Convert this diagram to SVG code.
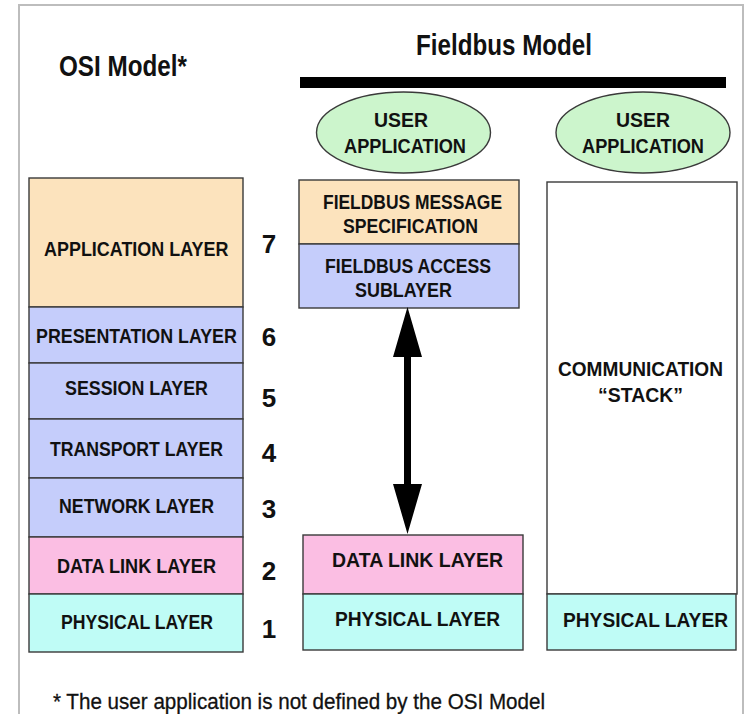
<svg xmlns="http://www.w3.org/2000/svg" width="748" height="714" viewBox="0 0 748 714">
  <style>
    .lbl { font-family: "Liberation Sans", Arial, sans-serif; font-weight: bold; font-size: 21px; fill: #111; }
    .num { font-family: "Liberation Sans", Arial, sans-serif; font-weight: bold; font-size: 26px; fill: #111; }
    .title { font-family: "Liberation Sans", Arial, sans-serif; font-weight: bold; font-size: 29px; fill: #111; }
    .note { font-family: "Liberation Sans", Arial, sans-serif; font-size: 22px; fill: #111; stroke: #111; stroke-width: 0.3; }
    .box { stroke: #3a3a3a; stroke-width: 1.4; }
    .app { fill: #fce3bd; }
    .upper { fill: #c5cdfb; }
    .dl { fill: #fbbee3; }
    .phy { fill: #bffcf6; }
    .blank { fill: #ffffff; }
    .user { fill: #ccf5cc; stroke: #3a3a3a; stroke-width: 1.4; }
  </style>

  <rect x="0" y="0" width="748" height="714" fill="#ffffff"/>
  <!-- outer frame -->
  <path d="M19,714 V5 H743 V714" fill="none" stroke="#bdbdbd" stroke-width="2"/>

  <!-- headings -->
  <text class="title" x="59" y="76" textLength="128" lengthAdjust="spacingAndGlyphs">OSI Model*</text>
  <text class="title" x="416" y="55" textLength="176" lengthAdjust="spacingAndGlyphs">Fieldbus Model</text>
  <rect x="300" y="77" width="426" height="11" fill="#000"/>

  <!-- OSI reference stack -->
  <g id="osi-application">
    <rect class="box app" x="29" y="178" width="214" height="129"/>
    <text class="lbl" transform="translate(44,256) scale(0.855,1)">APPLICATION LAYER</text>
    <text class="num" x="269" y="253" text-anchor="middle">7</text>
  </g>
  <g id="osi-presentation">
    <rect class="box upper" x="29" y="307" width="214" height="56"/>
    <text class="lbl" transform="translate(36,343) scale(0.85,1)">PRESENTATION LAYER</text>
    <text class="num" x="269" y="346" text-anchor="middle">6</text>
  </g>
  <g id="osi-session">
    <rect class="box upper" x="29" y="363" width="214" height="56"/>
    <text class="lbl" x="65" y="395" textLength="143" lengthAdjust="spacingAndGlyphs">SESSION LAYER</text>
    <text class="num" x="269" y="407" text-anchor="middle">5</text>
  </g>
  <g id="osi-transport">
    <rect class="box upper" x="29" y="419" width="214" height="59"/>
    <text class="lbl" x="50" y="456" textLength="173" lengthAdjust="spacingAndGlyphs">TRANSPORT LAYER</text>
    <text class="num" x="269" y="462" text-anchor="middle">4</text>
  </g>
  <g id="osi-network">
    <rect class="box upper" x="29" y="478" width="214" height="59"/>
    <text class="lbl" x="59" y="513" textLength="155" lengthAdjust="spacingAndGlyphs">NETWORK LAYER</text>
    <text class="num" x="269" y="518" text-anchor="middle">3</text>
  </g>
  <g id="osi-datalink">
    <rect class="box dl" x="29" y="537" width="214" height="57"/>
    <text class="lbl" x="57" y="573" textLength="159" lengthAdjust="spacingAndGlyphs">DATA LINK LAYER</text>
    <text class="num" x="269" y="580" text-anchor="middle">2</text>
  </g>
  <g id="osi-physical">
    <rect class="box phy" x="29" y="594" width="214" height="58"/>
    <text class="lbl" x="61" y="629" textLength="152" lengthAdjust="spacingAndGlyphs">PHYSICAL LAYER</text>
    <text class="num" x="269" y="638" text-anchor="middle">1</text>
  </g>

  <!-- Fieldbus model, left column -->
  <g id="fb-user-app">
    <ellipse class="user" cx="403.5" cy="132.5" rx="87" ry="40.5"/>
    <text class="lbl" x="374" y="127" font-size="22" textLength="54" lengthAdjust="spacingAndGlyphs">USER</text>
    <text class="lbl" x="344" y="153" font-size="22" textLength="122" lengthAdjust="spacingAndGlyphs">APPLICATION</text>
  </g>
  <g id="fb-fms">
    <rect class="box app" x="299" y="180" width="220" height="64"/>
    <text class="lbl" x="323" y="209" textLength="179" lengthAdjust="spacingAndGlyphs">FIELDBUS MESSAGE</text>
    <text class="lbl" x="343" y="233" textLength="135" lengthAdjust="spacingAndGlyphs">SPECIFICATION</text>
  </g>
  <g id="fb-fas">
    <rect class="box upper" x="299" y="244" width="220" height="64"/>
    <text class="lbl" x="325" y="273" textLength="166" lengthAdjust="spacingAndGlyphs">FIELDBUS ACCESS</text>
    <text class="lbl" x="355" y="297" textLength="97" lengthAdjust="spacingAndGlyphs">SUBLAYER</text>
  </g>
  <g id="fb-datalink">
    <rect class="box dl" x="303" y="535" width="220" height="59"/>
    <text class="lbl" x="332" y="567" textLength="171" lengthAdjust="spacingAndGlyphs">DATA LINK LAYER</text>
  </g>
  <g id="fb-physical">
    <rect class="box phy" x="303" y="594" width="220" height="56"/>
    <text class="lbl" x="335" y="626" textLength="165" lengthAdjust="spacingAndGlyphs">PHYSICAL LAYER</text>
  </g>

  <!-- Fieldbus model, right column -->
  <g id="stack-user-app">
    <ellipse class="user" cx="643" cy="132.5" rx="87" ry="40.5"/>
    <text class="lbl" x="616" y="127" font-size="22" textLength="54" lengthAdjust="spacingAndGlyphs">USER</text>
    <text class="lbl" x="582" y="153" font-size="22" textLength="122" lengthAdjust="spacingAndGlyphs">APPLICATION</text>
  </g>
  <g id="stack-communication">
    <rect class="box blank" x="547" y="182" width="190" height="412"/>
    <text class="lbl" x="558" y="376" textLength="165" lengthAdjust="spacingAndGlyphs">COMMUNICATION</text>
    <text class="lbl" x="598" y="402" textLength="85" lengthAdjust="spacingAndGlyphs">“STACK”</text>
  </g>
  <g id="stack-physical">
    <rect class="box phy" x="547" y="594" width="189" height="56"/>
    <text class="lbl" x="563" y="627" textLength="165" lengthAdjust="spacingAndGlyphs">PHYSICAL LAYER</text>
  </g>

  <!-- connectors -->
  <g id="connectors">
    <path d="M407.5,307 L422,357 L411,357 L411,484 L422,484 L407.5,534 L393,484 L404,484 L404,357 L393,357 Z" fill="#000"/>
  </g>

  <!-- footnote -->
  <text class="note" x="53" y="709" textLength="492" lengthAdjust="spacingAndGlyphs">* The user application is not defined by the OSI Model</text>
</svg>
